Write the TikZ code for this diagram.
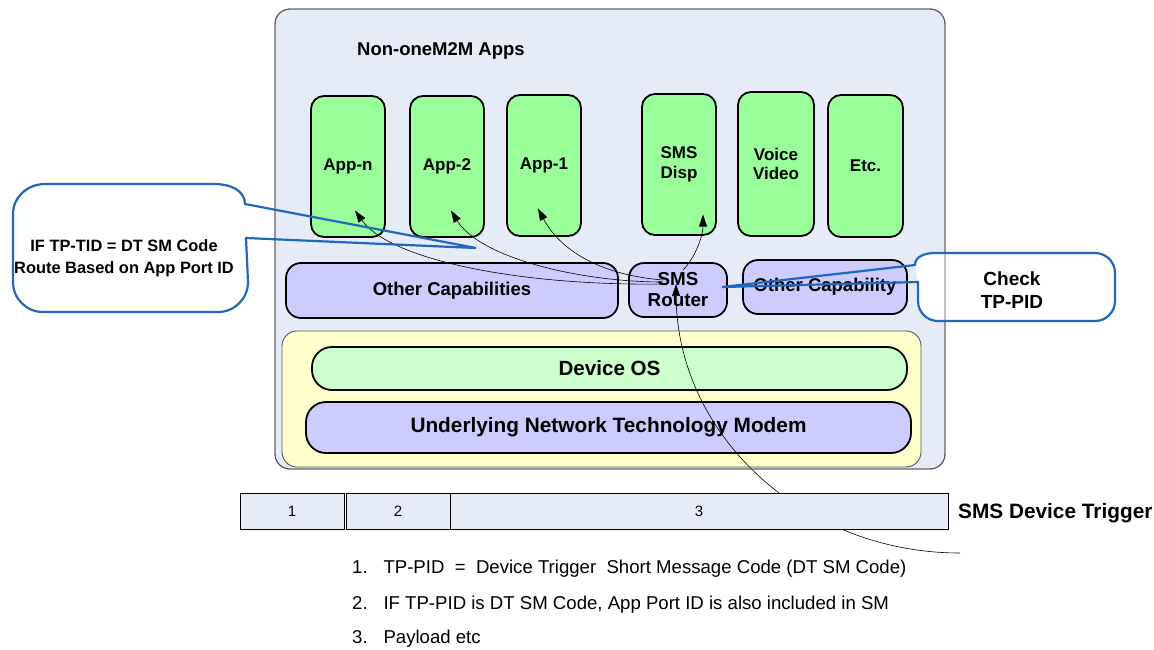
\documentclass[tikz,border=0pt]{standalone}
\usepackage{fontspec}
\setmainfont{Liberation Sans}
\usetikzlibrary{arrows.meta,calc}

\definecolor{panel}{HTML}{E6ECF7}
\definecolor{appgreen}{HTML}{99FF99}
\definecolor{lavender}{HTML}{CCCCFF}
\definecolor{paleyellow}{HTML}{FFFFCC}
\definecolor{palegreen}{HTML}{CCFFCC}
\definecolor{calloutblue}{HTML}{1F68BE}
\definecolor{framegray}{HTML}{555555}

\tikzset{
  panelframe/.style={draw=framegray, line width=0.9pt, rounded corners=15pt},
  block/.style={draw=black, line width=1.8pt, rounded corners=#1, inner sep=0pt,
    align=center, font=\bfseries\fontsize{17}{19.5}\selectfont},
  block/.default=13pt,
  appbox/.style={block, fill=appgreen, minimum width=74pt, minimum height=141pt},
  capbox/.style={block=15pt, fill=lavender, font=\bfseries\fontsize{18.5}{21}\selectfont},
  flow/.style={black, line width=0.6pt, -{Triangle[length=12pt,width=8pt]}},
  calloutline/.style={draw=calloutblue, line width=2.2pt, line join=round},
  barcell/.style={draw=black, line width=0.7pt, fill=panel, inner sep=0pt,
    minimum height=36pt, font=\fontsize{15}{17}\selectfont},
  notes/.style={anchor=west, inner sep=0pt, font=\fontsize{18.6}{21}\selectfont},
}

\begin{document}
\begin{tikzpicture}[x=1pt,y=-1pt]
\useasboundingbox (0,0) rectangle (1154,649);

% device panel
\path[panelframe, fill=panel] (275,9) rectangle (945,469);
\node[anchor=west, inner sep=0pt, font=\bfseries\fontsize{18.5}{21}\selectfont]
  (title) at (357,51) {Non-oneM2M Apps};

% applications
\node[appbox] (appn) at (348,166.5) {App-n};
\node[appbox] (app2) at (447,166.5) {App-2};
\node[appbox] (app1) at (544,165.5) {App-1};
\node[appbox] (disp) at (679,164.5) {SMS\\Disp};
\node[appbox, minimum width=76pt, minimum height=144pt] (voice) at (776,164) {Voice\\Video};
\node[appbox, minimum width=75pt, minimum height=142pt] (etc) at (865.5,166) {Etc.};

% capability row
\node[capbox, minimum width=332pt, minimum height=55pt] (othercaps) at (452,290.5) {Other Capabilities};
\node[capbox, minimum width=98pt, minimum height=54pt, font=\bfseries\fontsize{18.8}{21}\selectfont]
  (router) at (678,290) {SMS\\Router};
\node[capbox, minimum width=164pt, minimum height=54pt] (othercap) at (825,287) {Other Capability};

% platform layers
\path[panelframe, fill=paleyellow] (282,331) rectangle (921,467);
\node[block=20pt, fill=palegreen, minimum width=595pt, minimum height=43pt,
  font=\bfseries\fontsize{20.6}{23}\selectfont] (os) at (609.5,368.5) {Device OS};
\node[block=20pt, fill=lavender, minimum width=605pt, minimum height=51pt,
  font=\bfseries\fontsize{20.8}{23}\selectfont] (modem) at (608.5,427.5)
  {Underlying Network Technology Modem};

% routing inside the device
\draw[flow] ($(router.center)+(-15,-6)$) .. controls (520,286) and (390,260) .. ($(appn.center)+(7,44)$);
\draw[flow] ($(router.center)+(-15,-8)$) .. controls (580,282) and (480,258) .. ($(app2.center)+(4,44)$);
\draw[flow] ($(router.center)+(-15,-10)$) .. controls (600,275) and (560,250) .. ($(app1.center)+(-6,43)$);
\draw[flow] ($(router.center)+(5,-20)$) .. controls (695,258) and (703,236) .. ($(disp.center)+(24,50)$);

% incoming device trigger
\coordinate (trigger) at (960,553);
\draw[flow] (trigger) .. controls (804,553) and (677,436) .. ($(router.center)+(-2,-6)$);

% short message layout
\node[barcell, minimum width=104pt] (f1) at (292,511) {1};
\node[barcell, minimum width=104pt] (f2) at (398,511) {2};
\node[barcell, minimum width=498pt] (f3) at (699,511) {3};
\node[anchor=west, inner sep=0pt, font=\bfseries\fontsize{20.8}{23}\selectfont]
  (smsdt) at (958,513) {SMS Device Trigger};

\node[notes] (n1) at (352,569) {1.\hspace{0.85em}TP-PID\ \ =\ \ Device Trigger\ \ Short Message Code (DT SM Code)};
\node[notes] (n2) at (352,605) {2.\hspace{0.85em}IF TP-PID is DT SM Code, App Port ID is also included in SM};
\node[notes] (n3) at (352,639) {3.\hspace{0.85em}Payload etc};

% left callout
\coordinate (ltip) at (476,248);
\fill[white] (245,204) to[out=90,in=0] (215,184) -- (45,184) to[out=180,in=90] (13,214)
  -- (13,282) to[out=-90,in=180] (43,312) -- (218,312) to[out=0,in=-90] (248,282) -- (246,238) -- cycle;
\draw[calloutline] (ltip) -- (245,204) to[out=90,in=0] (215,184) -- (45,184) to[out=180,in=90] (13,214)
  -- (13,282) to[out=-90,in=180] (43,312) -- (218,312) to[out=0,in=-90] (248,282) -- (246,238) -- (ltip);
\node[align=center, inner sep=0pt, font=\bfseries\fontsize{16.4}{22}\selectfont]
  (routetext) at (124,258) {IF TP-TID = DT SM Code\\Route Based on App Port ID};

% right callout
\coordinate (rtip) at (722,287);
\fill[white] (915,265) to[out=90,in=180] (935,253) -- (1095,253) to[out=0,in=90] (1115,273)
  -- (1115,301) to[out=-90,in=0] (1095,321) -- (938,321) to[out=180,in=-90] (918,301) -- (918,282) -- cycle;
\draw[calloutline] (rtip) -- (915,265) to[out=90,in=180] (935,253) -- (1095,253) to[out=0,in=90] (1115,273)
  -- (1115,301) to[out=-90,in=0] (1095,321) -- (938,321) to[out=180,in=-90] (918,301) -- (918,282) -- (rtip);
\node[align=center, inner sep=0pt, font=\bfseries\fontsize{19}{23}\selectfont]
  (checktext) at (1012,290) {Check\\TP-PID};

% panel outline kept on top
\draw[panelframe] (275,9) rectangle (945,469);
\end{tikzpicture}
\end{document}
